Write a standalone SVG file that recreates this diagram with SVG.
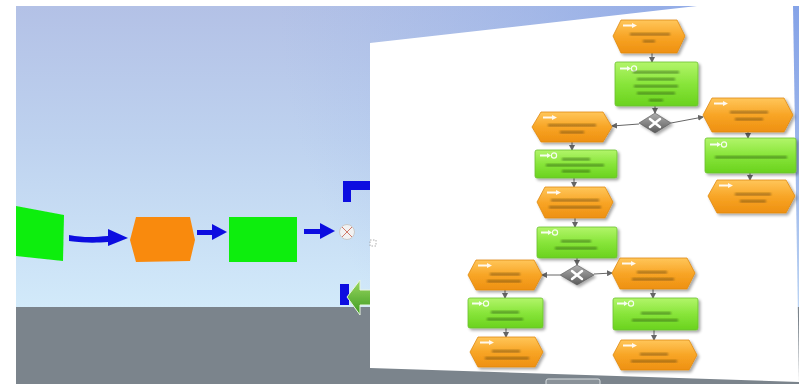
<svg xmlns="http://www.w3.org/2000/svg" width="799" height="384" viewBox="0 0 799 384">
<defs>
  <linearGradient id="sky" x1="0" y1="0" x2="0" y2="1">
    <stop offset="0" stop-color="#b3c1e6"/>
    <stop offset="0.45" stop-color="#bed2ef"/>
    <stop offset="1" stop-color="#d2eafa"/>
  </linearGradient>
  <radialGradient id="skyblue" cx="799" cy="0" r="520" gradientUnits="userSpaceOnUse">
    <stop offset="0" stop-color="#7f9fe8" stop-opacity="0.9"/>
    <stop offset="0.5" stop-color="#8eaae8" stop-opacity="0.45"/>
    <stop offset="1" stop-color="#9ab4ea" stop-opacity="0"/>
  </radialGradient>
  <linearGradient id="og" x1="0" y1="0" x2="0" y2="1">
    <stop offset="0" stop-color="#ffc65a"/>
    <stop offset="0.5" stop-color="#f8a526"/>
    <stop offset="1" stop-color="#ee9010"/>
  </linearGradient>
  <linearGradient id="gg" x1="0" y1="0" x2="0" y2="1">
    <stop offset="0" stop-color="#b2f56a"/>
    <stop offset="0.5" stop-color="#88e53a"/>
    <stop offset="1" stop-color="#6ad21e"/>
  </linearGradient>
  <linearGradient id="dg" x1="0" y1="0" x2="0" y2="1">
    <stop offset="0" stop-color="#b0b0b0"/>
    <stop offset="1" stop-color="#5a5a5a"/>
  </linearGradient>
  <linearGradient id="ga" x1="0" y1="0" x2="0" y2="1">
    <stop offset="0" stop-color="#9ad860"/>
    <stop offset="1" stop-color="#3c9a20"/>
  </linearGradient>
  <filter id="sh" x="-20%" y="-20%" width="140%" height="150%">
    <feGaussianBlur in="SourceAlpha" stdDeviation="1.5"/>
    <feOffset dx="1.5" dy="2" result="b"/>
    <feComponentTransfer><feFuncA type="linear" slope="0.35"/></feComponentTransfer>
    <feMerge><feMergeNode/><feMergeNode in="SourceGraphic"/></feMerge>
  </filter>
  <filter id="bl"><feGaussianBlur stdDeviation="0.9"/></filter>
  <filter id="soft"><feGaussianBlur stdDeviation="0.4"/></filter>
  <marker id="ah" markerWidth="6" markerHeight="6" refX="5" refY="3" orient="auto" markerUnits="userSpaceOnUse">
    <path d="M0,0 L6,3 L0,6 Z" fill="#666"/>
  </marker>
  <g id="oicon"><path d="M0,1.5 H9 V0 L14,2.5 L9,5 V3.5 H0 Z" fill="#fff" opacity="0.9"/></g>
  <g id="gicon"><path d="M0,1.5 H7 V0 L11,2.5 L7,5 V3.5 H0 Z" fill="#fff" opacity="0.9"/><circle cx="14" cy="2.5" r="2.6" fill="none" stroke="#fff" stroke-width="1.2" opacity="0.9"/></g>
</defs>
<style>
  .o{fill:url(#og);stroke:#e08a12;stroke-width:0.8}
  .g{fill:url(#gg);stroke:#6cc030;stroke-width:0.8}
  .d{fill:url(#dg);stroke:#555;stroke-width:0.6}
  .dx{stroke:#fff;stroke-width:2.5;stroke-linecap:round}
  .c{stroke:#666;stroke-width:1;fill:none;marker-end:url(#ah)}
  .to{fill:#6a4810;opacity:0.6;filter:url(#bl)}
  .tg{fill:#2e5a10;opacity:0.6;filter:url(#bl)}
  .blue{fill:#0a0fe0}
</style>

<!-- background -->
<rect width="799" height="384" fill="#ffffff"/>
<rect x="16" y="6" width="783" height="302" fill="url(#sky)"/>
<rect x="16" y="6" width="783" height="302" fill="url(#skyblue)"/>
<rect x="16" y="307" width="783" height="77" fill="#7b848c"/>

<!-- left 3D flow -->
<g id="left-flow" filter="url(#soft)">
  <g id="n-green-a"><polygon points="16,206 64,215 63,261 16,256" fill="#10ee10"/></g>
  <g id="n-orange"><polygon points="136,217 190,217 195,240 190,261 136,262 130,240" fill="#f98a10"/></g>
  <g id="n-green-b"><rect x="229" y="217" width="68" height="45" fill="#10ee10"/></g>
  <g id="n-xor"><circle cx="347" cy="232" r="7.5" fill="#f2f2f2" stroke="#c8c8c8" stroke-width="1"/>
    <path d="M342,227 L352,237 M352,227 L342,237" stroke="#d07a6a" stroke-width="1"/></g>
  <g id="left-connectors">
    <path d="M69,235 C85,238 95,237 108,236 L108,229 L128,238 L108,246 L108,242 C95,243 85,243 69,241 Z" class="blue"/>
    <path d="M197,230 H212 V224 L227,232 L212,240 V235 H197 Z" class="blue"/>
    <path d="M304,229 H320 V223 L335,231 L320,239 V234 H304 Z" class="blue"/>
    <path d="M343,181 H370 V190 H351 V202 H343 Z" class="blue"/>
    <rect x="340" y="284" width="9" height="21" class="blue"/>
    <path d="M347,297 L360,280 L360,290 L372,290 L372,305 L360,305 L360,315 Z" fill="url(#ga)" stroke="#e8f4e0" stroke-width="1"/>
  </g>
</g>

<!-- slanted white panel -->
<polygon points="370,43 697,6 793,6 799,382 370,368" fill="#ffffff"/>
<rect x="370" y="240" width="6" height="6" fill="none" stroke="#999" stroke-width="0.8" stroke-dasharray="1.5,1.5"/>
<rect x="546" y="379" width="54" height="8" rx="2" fill="#8a9299" stroke="#d8dde0" stroke-width="1"/>

<g id="chart" filter="url(#soft)">
<!-- connectors of panel chart -->
<g id="connectors">
  <path class="c" d="M652,53 V62"/>
  <path class="c" d="M655,106 V113"/>
  <path class="c" d="M639,124 L612,126"/>
  <path class="c" d="M671,123 L703,117"/>
  <path class="c" d="M572,142 V150"/>
  <path class="c" d="M574,178 V187"/>
  <path class="c" d="M575,218 V227"/>
  <path class="c" d="M577,258 V265"/>
  <path class="c" d="M560,275 L542,275"/>
  <path class="c" d="M594,274 L612,273"/>
  <path class="c" d="M505,290 V298"/>
  <path class="c" d="M506,328 V337"/>
  <path class="c" d="M748,132 V138"/>
  <path class="c" d="M750,173 V180"/>
  <path class="c" d="M653,289 V298"/>
  <path class="c" d="M654,330 V340"/>
</g>

<!-- nodes -->
<g id="o1" filter="url(#sh)"><polygon class="o" points="621,20 677,20 685,36 677,53 621,53 613,36"/><use href="#oicon" x="623" y="23"/><rect class="to" x="630" y="33" width="40" height="2.5"/><rect class="to" x="643" y="40" width="12" height="2.5"/></g>
<g id="g1" filter="url(#sh)"><rect class="g" x="615" y="62" width="83" height="44" rx="2"/><use href="#gicon" x="620" y="66"/><rect class="tg" x="633" y="71" width="46" height="2.5"/><rect class="tg" x="637" y="78" width="38" height="2.5"/><rect class="tg" x="634" y="85" width="44" height="2.5"/><rect class="tg" x="637" y="92" width="38" height="2.5"/><rect class="tg" x="649" y="99" width="14" height="2.5"/></g>
<g id="d1" filter="url(#sh)"><polygon class="d" points="639,123 655,113 671,123 655,133"/><path class="dx" d="M650,119 L660,127 M660,119 L650,127"/></g>
<g id="oL1" filter="url(#sh)"><polygon class="o" points="541,112 603,112 612,127 603,142 541,142 532,127"/><use href="#oicon" x="543" y="115"/><rect class="to" x="548" y="124" width="48" height="2.5"/><rect class="to" x="560" y="131" width="24" height="2.5"/></g>
<g id="oR1" filter="url(#sh)"><polygon class="o" points="712,98 784,98 793,115 784,132 712,132 703,115"/><use href="#oicon" x="714" y="101"/><rect class="to" x="730" y="111" width="38" height="2.5"/><rect class="to" x="735" y="118" width="28" height="2.5"/></g>
<g id="gL1" filter="url(#sh)"><rect class="g" x="535" y="150" width="82" height="28" rx="2"/><use href="#gicon" x="540" y="153"/><rect class="tg" x="562" y="158" width="28" height="2.5"/><rect class="tg" x="546" y="164" width="58" height="2.5"/><rect class="tg" x="562" y="170" width="28" height="2.5"/></g>
<g id="gR1" filter="url(#sh)"><rect class="g" x="705" y="138" width="91" height="35" rx="2"/><use href="#gicon" x="710" y="142"/><rect class="tg" x="715" y="156" width="72" height="2.5"/></g>
<g id="oR2" filter="url(#sh)"><polygon class="o" points="717,180 786,180 795,196 786,213 717,213 708,196"/><use href="#oicon" x="719" y="183"/><rect class="to" x="735" y="193" width="36" height="2.5"/><rect class="to" x="740" y="200" width="26" height="2.5"/></g>
<g id="oL2" filter="url(#sh)"><polygon class="o" points="545,187 605,187 613,202 605,218 545,218 537,202"/><use href="#oicon" x="547" y="190"/><rect class="to" x="551" y="199" width="48" height="2.5"/><rect class="to" x="549" y="206" width="52" height="2.5"/></g>
<g id="gL2" filter="url(#sh)"><rect class="g" x="537" y="227" width="80" height="31" rx="2"/><use href="#gicon" x="541" y="230"/><rect class="tg" x="561" y="240" width="30" height="2.5"/><rect class="tg" x="555" y="247" width="42" height="2.5"/></g>
<g id="d2" filter="url(#sh)"><polygon class="d" points="560,275 577,265 594,275 577,285"/><path class="dx" d="M572,271 L582,279 M582,271 L572,279"/></g>
<g id="oL3" filter="url(#sh)"><polygon class="o" points="476,260 534,260 542,275 534,290 476,290 468,275"/><use href="#oicon" x="478" y="263"/><rect class="to" x="490" y="273" width="30" height="2.5"/><rect class="to" x="487" y="280" width="34" height="2.5"/></g>
<g id="oR3" filter="url(#sh)"><polygon class="o" points="620,258 687,258 695,273 687,289 620,289 612,273"/><use href="#oicon" x="622" y="261"/><rect class="to" x="637" y="271" width="30" height="2.5"/><rect class="to" x="632" y="278" width="42" height="2.5"/></g>
<g id="gL3" filter="url(#sh)"><rect class="g" x="468" y="298" width="75" height="30" rx="2"/><use href="#gicon" x="472" y="301"/><rect class="tg" x="491" y="311" width="28" height="2.5"/><rect class="tg" x="487" y="318" width="36" height="2.5"/></g>
<g id="gR3" filter="url(#sh)"><rect class="g" x="613" y="298" width="85" height="32" rx="2"/><use href="#gicon" x="617" y="301"/><rect class="tg" x="641" y="312" width="30" height="2.5"/><rect class="tg" x="632" y="319" width="46" height="2.5"/></g>
<g id="oL4" filter="url(#sh)"><polygon class="o" points="478,337 535,337 543,352 535,367 478,367 470,352"/><use href="#oicon" x="480" y="340"/><rect class="to" x="492" y="350" width="28" height="2.5"/><rect class="to" x="485" y="357" width="44" height="2.5"/></g>
<g id="oR4" filter="url(#sh)"><polygon class="o" points="621,340 689,340 697,355 689,370 621,370 613,355"/><use href="#oicon" x="623" y="343"/><rect class="to" x="640" y="353" width="28" height="2.5"/><rect class="to" x="631" y="360" width="46" height="2.5"/></g>
</g>
</svg>
